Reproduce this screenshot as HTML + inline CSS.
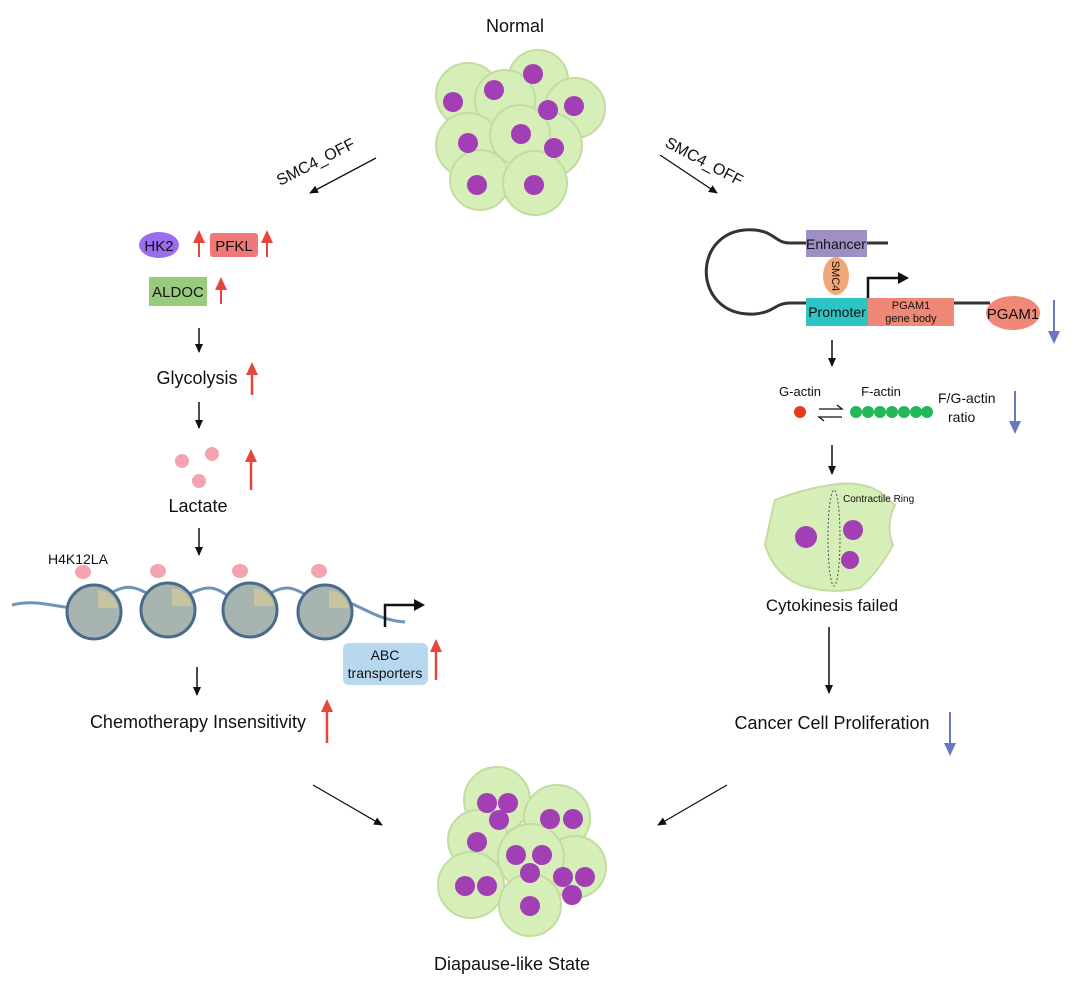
<!DOCTYPE html>
<html><head><meta charset="utf-8"><style>
body{margin:0;background:#fff}
svg{display:block}
text{font-family:"Liberation Sans",sans-serif;fill:#111}
</style></head><body>
<svg width="1080" height="999" viewBox="0 0 1080 999" xmlns="http://www.w3.org/2000/svg">
<defs>
<marker id="ak" markerWidth="10" markerHeight="10" refX="8" refY="5" orient="auto" markerUnits="userSpaceOnUse"><path d="M0,1 L9,5 L0,9 Z" fill="#111"/></marker>
<marker id="ar" markerWidth="14" markerHeight="14" refX="7" refY="7" orient="auto" markerUnits="userSpaceOnUse"><path d="M0,1 L13,7 L0,13 Z" fill="#e8463c"/></marker>
<marker id="ab" markerWidth="14" markerHeight="14" refX="7" refY="7" orient="auto" markerUnits="userSpaceOnUse"><path d="M0,1 L13,7 L0,13 Z" fill="#6a78c4"/></marker>
</defs>
<g style="font-size:18px">
<text x="515" y="32" text-anchor="middle">Normal</text>
<text x="512" y="970" text-anchor="middle">Diapause-like State</text>
</g>

<!-- top cluster -->
<g fill="#d6eeb8" stroke="#c4dca0" stroke-width="2">
<circle cx="538" cy="80" r="30"/><circle cx="468" cy="95" r="32"/><circle cx="575" cy="108" r="30"/>
<circle cx="505" cy="100" r="30"/><circle cx="550" cy="145" r="32"/><circle cx="468" cy="145" r="32"/>
<circle cx="520" cy="135" r="30"/><circle cx="480" cy="180" r="30"/><circle cx="535" cy="183" r="32"/>
</g>
<g fill="#a23fb4">
<circle cx="453" cy="102" r="10"/><circle cx="494" cy="90" r="10"/><circle cx="533" cy="74" r="10"/>
<circle cx="574" cy="106" r="10"/><circle cx="548" cy="110" r="10"/><circle cx="468" cy="143" r="10"/>
<circle cx="521" cy="134" r="10"/><circle cx="554" cy="148" r="10"/><circle cx="477" cy="185" r="10"/>
<circle cx="534" cy="185" r="10"/>
</g>

<!-- bottom cluster -->
<g fill="#d6eeb8" stroke="#c4dca0" stroke-width="2">
<circle cx="497" cy="800" r="33"/><circle cx="557" cy="818" r="33"/><circle cx="478" cy="840" r="30"/>
<circle cx="575" cy="867" r="31"/><circle cx="531" cy="857" r="33"/><circle cx="471" cy="885" r="33"/><circle cx="530" cy="905" r="31"/>
</g>
<g fill="#a23fb4">
<circle cx="487" cy="803" r="10"/><circle cx="508" cy="803" r="10"/><circle cx="499" cy="820" r="10"/>
<circle cx="550" cy="819" r="10"/><circle cx="573" cy="819" r="10"/><circle cx="477" cy="842" r="10"/>
<circle cx="516" cy="855" r="10"/><circle cx="542" cy="855" r="10"/><circle cx="530" cy="873" r="10"/>
<circle cx="563" cy="877" r="10"/><circle cx="585" cy="877" r="10"/><circle cx="572" cy="895" r="10"/>
<circle cx="465" cy="886" r="10"/><circle cx="487" cy="886" r="10"/><circle cx="530" cy="906" r="10"/>
</g>

<!-- SMC4_OFF arrows -->
<line x1="376" y1="158" x2="310" y2="193" stroke="#111" stroke-width="1.3" marker-end="url(#ak)"/>
<text font-size="16" transform="translate(280,186) rotate(-27)">SMC4_OFF</text>
<line x1="660" y1="155" x2="717" y2="193" stroke="#111" stroke-width="1.3" marker-end="url(#ak)"/>
<text font-size="16" transform="translate(664,146) rotate(28)">SMC4_OFF</text>

<!-- left branch -->
<ellipse cx="159" cy="245" rx="20" ry="13" fill="#9a6cf0"/>
<text x="159" y="251" font-size="15" text-anchor="middle">HK2</text>
<line x1="199" y1="257" x2="199" y2="236" stroke="#e8463c" stroke-width="2" marker-end="url(#ar)"/>
<rect x="210" y="233" width="48" height="24" rx="3" fill="#f07878"/>
<text x="234" y="251" font-size="15" text-anchor="middle">PFKL</text>
<line x1="267" y1="257" x2="267" y2="236" stroke="#e8463c" stroke-width="2" marker-end="url(#ar)"/>
<rect x="149" y="277" width="58" height="29" fill="#98cc7c"/>
<text x="178" y="297" font-size="15" text-anchor="middle">ALDOC</text>
<line x1="221" y1="304" x2="221" y2="283" stroke="#e8463c" stroke-width="2" marker-end="url(#ar)"/>

<g stroke="#111" stroke-width="1.5">
<line x1="199" y1="328" x2="199" y2="352" marker-end="url(#ak)"/>
<line x1="199" y1="402" x2="199" y2="428" marker-end="url(#ak)"/>
<line x1="199" y1="528" x2="199" y2="555" marker-end="url(#ak)"/>
<line x1="197" y1="667" x2="197" y2="695" marker-end="url(#ak)"/>
</g>
<text x="197" y="384" font-size="18" text-anchor="middle">Glycolysis</text>
<line x1="252" y1="395" x2="252" y2="368" stroke="#e8463c" stroke-width="2.5" marker-end="url(#ar)"/>
<g fill="#f4a4b0"><circle cx="182" cy="461" r="7"/><circle cx="212" cy="454" r="7"/><circle cx="199" cy="481" r="7"/></g>
<line x1="251" y1="490" x2="251" y2="455" stroke="#e8463c" stroke-width="2.5" marker-end="url(#ar)"/>
<text x="198" y="512" font-size="18" text-anchor="middle">Lactate</text>

<!-- nucleosomes -->
<text x="48" y="564" font-size="14">H4K12LA</text>
<path d="M12,605 C40,598 60,610 85,608 M100,598 C120,590 125,580 150,595 M175,600 C200,590 210,580 230,598 M255,600 C280,590 285,580 310,598 M330,600 C350,595 370,620 405,622" stroke="#6f94b8" stroke-width="3" fill="none"/>
<g stroke="#4a6a8a" stroke-width="3">
<circle cx="94" cy="612" r="27" fill="#a8b4b0"/>
<circle cx="168" cy="610" r="27" fill="#a8b4b0"/>
<circle cx="250" cy="610" r="27" fill="#a8b4b0"/>
<circle cx="325" cy="612" r="27" fill="#a8b4b0"/>
</g>
<g fill="#c8c4a0"><path d="M98,590 a22,22 0 0 1 20,18 h-20z"/><path d="M172,588 a22,22 0 0 1 20,18 h-20z"/><path d="M254,588 a22,22 0 0 1 20,18 h-20z"/><path d="M329,590 a22,22 0 0 1 20,18 h-20z"/></g>
<g fill="#f4a4b0"><ellipse cx="83" cy="572" rx="8" ry="7"/><ellipse cx="158" cy="571" rx="8" ry="7"/><ellipse cx="240" cy="571" rx="8" ry="7"/><ellipse cx="319" cy="571" rx="8" ry="7"/></g>
<path d="M385,627 V605 H418" stroke="#111" stroke-width="2.5" fill="none"/>
<path d="M414,599 L425,605 L414,611 Z" fill="#111"/>
<rect x="343" y="643" width="85" height="42" rx="6" fill="#b8d8f0"/>
<text x="385" y="660" font-size="14" text-anchor="middle">ABC</text>
<text x="385" y="678" font-size="14" text-anchor="middle">transporters</text>
<line x1="436" y1="680" x2="436" y2="645" stroke="#e8463c" stroke-width="2.5" marker-end="url(#ar)"/>
<text x="198" y="728" font-size="18" text-anchor="middle">Chemotherapy Insensitivity</text>
<line x1="327" y1="743" x2="327" y2="705" stroke="#e8463c" stroke-width="2.5" marker-end="url(#ar)"/>

<line x1="313" y1="785" x2="382" y2="825" stroke="#111" stroke-width="1.3" marker-end="url(#ak)"/>
<line x1="727" y1="785" x2="658" y2="825" stroke="#111" stroke-width="1.3" marker-end="url(#ak)"/>

<!-- right branch: loop -->
<path d="M888,243 H790 C775,243 775,232 755,230 C690,225 690,318 755,314 C775,312 775,303 790,303 H990" stroke="#333" stroke-width="3" fill="none"/>
<rect x="806" y="230" width="61" height="27" fill="#9e90c4"/>
<text x="836" y="249" font-size="14" text-anchor="middle">Enhancer</text>
<ellipse cx="836" cy="276" rx="13" ry="19" fill="#f2a878"/>
<text x="836" y="276" font-size="11" text-anchor="middle" transform="rotate(90 836 276)" dy="4">SMC4</text>
<rect x="806" y="298" width="62" height="28" fill="#2ec4c4"/>
<text x="837" y="317" font-size="14" text-anchor="middle">Promoter</text>
<rect x="868" y="298" width="86" height="28" fill="#f08878"/>
<text x="911" y="309" font-size="11" text-anchor="middle">PGAM1</text>
<text x="911" y="322" font-size="11" text-anchor="middle">gene body</text>
<path d="M868,298 V278 H900" stroke="#111" stroke-width="2.5" fill="none"/>
<path d="M898,272 L909,278 L898,284 Z" fill="#111"/>
<ellipse cx="1013" cy="313" rx="27" ry="17" fill="#f08878"/>
<text x="1013" y="319" font-size="15" text-anchor="middle">PGAM1</text>
<line x1="1054" y1="300" x2="1054" y2="338" stroke="#6a78c4" stroke-width="2" marker-end="url(#ab)"/>

<line x1="832" y1="340" x2="832" y2="366" stroke="#111" stroke-width="1.5" marker-end="url(#ak)"/>
<text x="800" y="396" font-size="13" text-anchor="middle">G-actin</text>
<text x="881" y="396" font-size="13" text-anchor="middle">F-actin</text>
<circle cx="800" cy="412" r="6" fill="#e83a1c"/>
<path d="M819,409 H842 l-5,-4 M842,417 H819 l5,4" stroke="#111" stroke-width="1.3" fill="none"/>
<g fill="#22b85a"><circle cx="856" cy="412" r="6"/><circle cx="868" cy="412" r="6"/><circle cx="880" cy="412" r="6"/><circle cx="892" cy="412" r="6"/><circle cx="904" cy="412" r="6"/><circle cx="916" cy="412" r="6"/><circle cx="927" cy="412" r="6"/></g>
<text x="938" y="403" font-size="14">F/G-actin</text>
<text x="948" y="422" font-size="14">ratio</text>
<line x1="1015" y1="391" x2="1015" y2="428" stroke="#6a78c4" stroke-width="2" marker-end="url(#ab)"/>

<line x1="832" y1="445" x2="832" y2="474" stroke="#111" stroke-width="1.5" marker-end="url(#ak)"/>
<path d="M775,500 Q800,490 830,485 Q860,480 880,492 L895,505 Q885,525 893,545 Q880,570 860,588 Q830,595 800,585 Q775,575 765,545 Q770,520 775,500 Z" fill="#d6eeb8" stroke="#c4dca0" stroke-width="2"/>
<ellipse cx="834" cy="538" rx="6" ry="48" fill="none" stroke="#555" stroke-width="1" stroke-dasharray="2,2"/>
<g fill="#a23fb4"><circle cx="806" cy="537" r="11"/><circle cx="853" cy="530" r="10"/><circle cx="850" cy="560" r="9"/></g>
<text x="843" y="502" font-size="10">Contractile Ring</text>
<text x="832" y="611" font-size="17" text-anchor="middle">Cytokinesis failed</text>
<line x1="829" y1="627" x2="829" y2="693" stroke="#111" stroke-width="1.5" marker-end="url(#ak)"/>
<text x="832" y="729" font-size="18" text-anchor="middle">Cancer Cell Proliferation</text>
<line x1="950" y1="712" x2="950" y2="750" stroke="#6a78c4" stroke-width="2" marker-end="url(#ab)"/>
</svg>
</body></html>
